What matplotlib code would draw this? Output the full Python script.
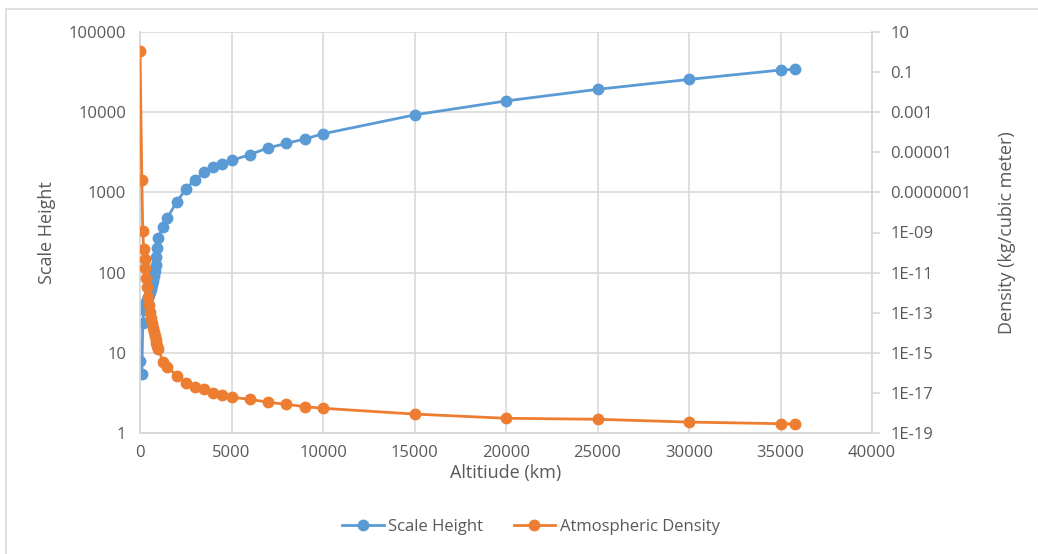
import matplotlib.pyplot as plt
from matplotlib.patches import Rectangle
from matplotlib.ticker import FixedLocator, FixedFormatter, NullLocator
import numpy as np

plt.rcParams['font.family'] = ['Open Sans', 'DejaVu Sans']

# altitude (km)
altitude = [0, 100, 150, 200, 250, 300, 350, 400, 450, 500, 550, 600, 650, 700,
            750, 800, 850, 900, 950, 1000, 1250, 1500, 2000, 2500, 3000, 3500,
            4000, 4500, 5000, 6000, 7000, 8000, 9000, 10000, 15000, 20000,
            25000, 30000, 35000, 35786]

# scale height (km)
scale_height = [7.8, 5.4, 23.4, 34, 37, 40, 43, 46, 49, 53, 57, 62, 69, 78,
                90, 106, 126, 155, 200, 272, 368, 484, 762, 1094, 1450, 1780,
                2050, 2280, 2510, 2970, 3600, 4100, 4650, 5400, 9300, 13900,
                19400, 25800, 33800, 34500]

# log10 of atmospheric density (kg/m^3)
density_log = [0.09, -6.39, -8.91, -9.81, -10.34, -10.79, -11.25, -11.7, -12.2,
               -12.6, -12.95, -13.25, -13.5, -13.75, -13.95, -14.15, -14.35,
               -14.5, -14.65, -14.8, -15.45, -15.7, -16.15, -16.53, -16.7,
               -16.83, -17.0, -17.13, -17.23, -17.33, -17.48, -17.58, -17.7,
               -17.78, -18.07, -18.28, -18.33, -18.47, -18.55, -18.57]
density = [10 ** v for v in density_log]

left_ticks = [1, 10, 100, 1000, 10000, 100000]
left_labels = ['1', '10', '100', '1000', '10000', '100000']
right_ticks = [10.0 ** e for e in range(1, -20, -2)]
right_labels = ['10', '0.1', '0.001', '0.00001', '0.0000001', '1E-09', '1E-11',
                '1E-13', '1E-15', '1E-17', '1E-19']
x_ticks = [0, 5000, 10000, 15000, 20000, 25000, 30000, 35000, 40000]

blue = '#5B9BD5'
orange = '#ED7D31'
grid_c = '#D9D9D9'
text_c = '#595959'

fig = plt.figure(figsize=(10.38, 5.54), dpi=100)
fig.patches.append(Rectangle((6 / 1038, -0.1), 1.2, (554 - 9) / 554 + 0.1,
                             transform=fig.transFigure, fill=False,
                             edgecolor=grid_c, linewidth=1.2))

ax = fig.add_axes([140 / 1038, 1 - 432.7 / 554, 732 / 1038, 400.4 / 554])
ax2 = ax.twinx()

ax.set_yscale('log')
ax.set_ylim(1, 100000)
ax.set_xlim(0, 40000)
ax.yaxis.set_major_locator(FixedLocator(left_ticks))
ax.yaxis.set_major_formatter(FixedFormatter(left_labels))
ax.yaxis.set_minor_locator(NullLocator())
ax.set_xticks(x_ticks)
ax.set_xticklabels([str(t) for t in x_ticks])
ax.grid(True, color=grid_c, linewidth=1.2)
ax.set_axisbelow(True)

ax2.set_yscale('log')
ax2.set_ylim(1e-19, 10)
ax2.yaxis.set_major_locator(FixedLocator(right_ticks))
ax2.yaxis.set_major_formatter(FixedFormatter(right_labels))
ax2.yaxis.set_minor_locator(NullLocator())

l1, = ax.plot(altitude, scale_height, color=blue, lw=2, marker='o', ms=7.5,
              label='Scale Height', zorder=3)
l2, = ax2.plot(altitude, density, color=orange, lw=2, marker='o', ms=7.5,
               label='Atmospheric Density', zorder=3)

for a in (ax, ax2):
    for s in a.spines.values():
        s.set_color(grid_c)
        s.set_linewidth(1.2)
    a.spines['top'].set_visible(False)

ax.tick_params(axis='both', length=0, labelsize=12, labelcolor=text_c, pad=9)
ax.tick_params(axis='y', pad=10)
ax2.tick_params(axis='y', length=6, width=1.2, color=grid_c, labelsize=12,
                labelcolor=text_c, pad=7)

ax.set_xlabel('Altitiude (km)', fontsize=13, color=text_c, labelpad=2)
ax.set_ylabel('Scale Height', fontsize=13, color=text_c, labelpad=9)
ax2.set_ylabel('Density (kg/cubic meter)', fontsize=13, color=text_c, labelpad=19)

fig.legend(handles=[l1, l2], loc='center', bbox_to_anchor=(531 / 1038, 1 - 527 / 554),
           ncol=2, frameon=False, fontsize=12, labelcolor=text_c,
           handlelength=2.5, columnspacing=1.8, handletextpad=0.3)

fig.savefig('out.png', dpi=100)
